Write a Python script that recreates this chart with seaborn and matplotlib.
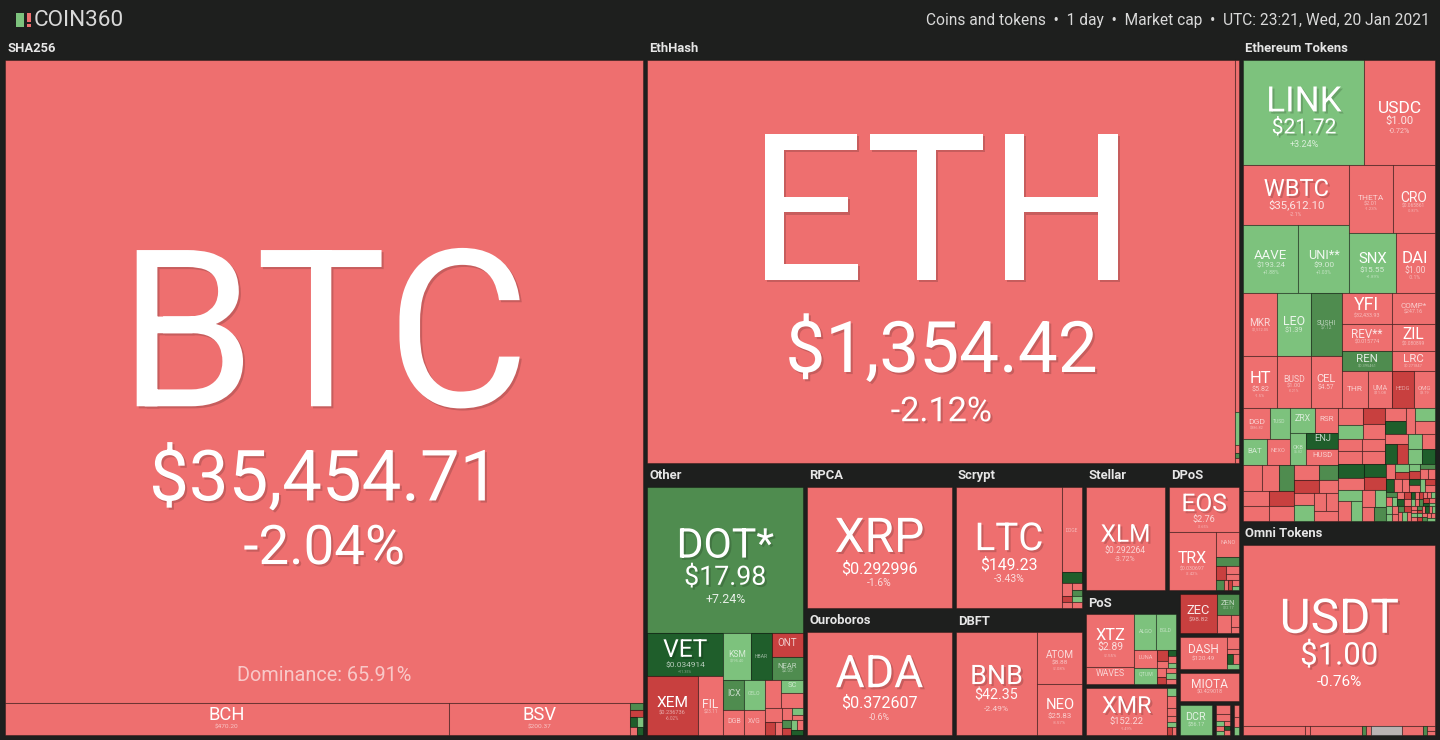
import matplotlib
matplotlib.use('Agg')
import matplotlib.pyplot as plt
import matplotlib.patheffects as pe
from matplotlib.patches import Rectangle
from matplotlib.textpath import TextPath
from matplotlib.font_manager import FontProperties
import seaborn as sns

# ---------------- data (tile size = relative tile area, change = 24h %) ----------------
# SHA256
sha_names = ['BTC', 'BCH', 'BSV']
sha_size = [4060, 142, 58]
sha_change = [-2.04, -2.69, -1.78]
sha_price = ['$35,454.71', '$470.20', '$200.37']
sha_tail_size = [0.9, 1.0, 0.6, 0.6, 0.6, 0.5]
sha_tail_change = [6.3, -5.8, 12.1, 2.4, -2.2, 11.5]
btc_dominance = 65.91

# EthHash
eth_names = ['ETH', 'ETC']
eth_size = [2344, 14]
eth_change = [-2.12, -3.05]
eth_price = ['$1,354.42', '$7.41']
eth_tail_size = [1.3, 0.3, 0.2, 0.2]
eth_tail_change = [2.2, -4.0, 7.0, -2.0]

# Ethereum Tokens
erc_names = ['LINK', 'USDC', 'WBTC', 'AAVE', 'UNI**', 'THETA', 'CRO', 'SNX', 'DAI',
             'MKR', 'LEO', 'SUSHI', 'HT', 'BUSD', 'CEL',
             'YFI', 'REV**', 'COMP*', 'ZIL', 'REN', 'LRC', 'THR', 'UMA', 'HEDG', 'OMG',
             'DGD', 'TUSD', 'BAT', 'NEXO', 'ZRX', 'RSR', 'OKB', 'ENJ', 'HUSD']
erc_size = [126, 73.5, 63, 36.2, 34.2, 29.2, 28.6, 27.1, 23,
            20.8, 21.4, 19.5, 17.2, 17.7, 16.1,
            15.5, 13.5, 13.3, 11.6, 10, 8.6, 9.6, 8.9, 8.1, 7.8,
            7.8, 6.0, 6.0, 6.0, 6.2, 5.5, 5.4, 5.1, 5.1]
erc_change = [3.24, -0.72, -2.1, 1.88, 1.03, -1.23, -0.87, 1.89, -0.1,
              -1.96, 1.12, 6.45, -1.5, -0.21, -2.04,
              -3.1, -2.0, -1.9, -3.5, 7.5, -1.0, -2.5, -3.0, -6.5, -2.4,
              -2.7, 0.3, 1.5, -1.2, 2.0, -2.5, 1.5, 14.2, -0.3]
erc_price = ['$21.72', '$1.00', '$35,612.10', '$193.24', '$9.00', '$2.01', '$0.065861', '$15.55', '$1.00',
             '$1,512.05', '$1.39', '$7.12', '$5.82', '$1.00', '$4.57',
             '$32,433.93', '$0.015774', '$247.16', '$0.080899', '$0.395461', '$0.271847', '$1,185.57',
             '$11.08', '$1.32', '$3.79',
             '$386.82', '$1.00', '$0.248271', '$0.886521', '$0.571204', '$0.034587', '$6.82', '$0.235862', '$1.00']
erc_c1_size = [4.7, 4.4, 3.9, 3.75, 3.75, 3.75, 3.75]
erc_c1_change = [-3.2, -2.1, 6.8, -2.0, -1.4, -6.0, -2.2]
erc_c2_size = [3.6, 3.2, 2.9, 2.5, 2.3, 3.1, 2.25, 2.25, 2.25]
erc_c2_change = [-2.3, -5.6, 6.2, -1.8, -1.1, 2.9, -2.4, -1.2, -3.3]
erc_rt_size = [4.0, 3.5, 3.3, 3.2, 3.0, 2.9, 2.8, 2.7, 2.6, 2.6,
               2.5, 2.5, 2.4, 2.4, 2.3, 2.2, 2.1, 2.0, 2.0, 1.8]
erc_rt_change = [-2.1, 2.6, -5.4, -1.7, -2.9, -1.2, -2.4, -3.1, -0.8, 12.3,
                 -1.9, 3.4, -2.6, -1.5, 11.8, -6.1, 2.2, -2.0, 1.9, 13.0]
erc_cc_size = [3.6, 3.2, 3.0, 2.8, 2.6, 2.4, 2.2, 2.0, 1.8, 1.6, 1.6]
erc_cc_change = [12.5, -2.2, 11.2, -6.3, 2.8, -1.6, 3.1, -2.5, 2.0, -3.4, 8.1]
erc_dense_size = [1.4, 1.2, 1.1, 1.0, 0.95, 0.9, 0.85, 0.8, 0.78, 0.75,
                  0.72, 0.7, 0.68, 0.65, 0.62, 0.6, 0.58, 0.56, 0.54, 0.52,
                  0.5, 0.48, 0.46, 0.45, 0.44, 0.42, 0.4, 0.39, 0.38, 0.36,
                  0.35, 0.34, 0.33, 0.32, 0.31, 0.3, 0.29, 0.28, 0.27, 0.26,
                  0.25, 0.24, 0.23, 0.22, 0.21, 0.2, 0.2, 0.2, 0.2, 0.2,
                  0.2, 0.2, 0.2, 0.2, 0.2, 0.2, 0.2, 0.2, 0.2, 0.2, 0.2, 0.2]
erc_dense_change = [-2.4, 3.1, -6.2, 12.4, -1.3, -2.8, 2.2, -7.1, 6.4, -0.9,
                    -3.6, 14.0, -2.2, 1.7, -5.5, -1.8, 8.3, -2.9, 3.3, -1.1,
                    -6.8, 11.3, -2.5, 0.8, -3.9, 2.6, -1.4, 7.2, -8.0, -2.0,
                    1.2, -3.0, 13.5, -1.6, -5.1, 2.9, -2.7, 6.1, -1.0, -4.4,
                    2.0, -6.5, 10.8, -2.3, 3.8, -1.9, -3.3, 9.1, -7.4, 1.5,
                    -2.1, 4.2, -5.8, -1.2, 12.0, -3.5, 2.4, -2.6, 6.9, -1.5, -4.8, 3.6]

# Omni Tokens
omni_names = ['USDT']
omni_size = [344]
omni_change = [-0.76]
omni_price = ['$1.00']
omni_tail_size = [5.5, 0.4, 4.6, 0.4, 0.4, 2.8, 1.8, 0.4, 0.4, 0.3]
omni_tail_change = [-2.1, -1.0, -2.4, 6.0, -4.0, None, -2.3, 5.0, -3.0, -1.5]

# Other
oth_names = ['DOT*', 'VET', 'XEM', 'FIL', 'KSM', 'HBAR', 'ONT', 'NEAR', 'ICX', 'CELO', 'DGB', 'XVG', '', 'SC', '']
oth_size = [226, 32.3, 29.5, 14.8, 12.7, 9.9, 7.4, 7.1, 6.3, 6.0, 5.3, 5.0, 4.5, 2.9, 3.3]
oth_change = [7.24, 11.35, -6.02, -2.61, 3.72, 10.8, -5.6, 6.2, 5.8, 3.3, -2.0, -1.9, -2.3, 2.1, -1.6]
oth_price = ['$17.98', '$0.034914', '$0.236736', '$23.11', '$195.40', '$0.044927', '$0.692310', '$2.05',
             '$0.961877', '$2.78', '$0.026814', '$0.013021', '', '$0.005689', '']
oth_tail_size = [2.5, 1.3, 1.0, 1.2, 0.8, 0.6, 0.6, 0.6, 0.6, 0.6, 0.6]
oth_tail_change = [-2.0, -6.4, -1.2, -2.8, 4.0, -1.5, 8.5, -6.0, 2.5, -2.2, 12.0]

# single-coin and small groups
rpca_names, rpca_size, rpca_change, rpca_price = ['XRP'], [173], [-1.6], ['$0.292996']
ouro_names, ouro_size, ouro_change, ouro_price = ['ADA'], [148], [-0.6], ['$0.372607']
xlm_names, xlm_size, xlm_change, xlm_price = ['XLM'], [80.3], [-3.72], ['$0.292264']
iota_names, iota_size, iota_change, iota_price = ['MIOTA'], [16.5], [-2.64], ['$0.429018']
dcr_names, dcr_size, dcr_change, dcr_price = ['DCR'], [9.6], [2.97], ['$56.17']

scr_names = ['LTC', 'DOGE', '']
scr_size = [128.3, 17, 2.2]
scr_change = [-3.43, -1.42, 12.2]
scr_price = ['$149.23', '$0.008923', '']
scr_tail_size = [1.2, 0.7, 0.6, 0.6, 0.6, 0.7, 0.6]
scr_tail_change = [-2.2, -3.0, 6.5, -6.1, -1.5, 2.8, -2.0]

dbft_names = ['BNB', 'ATOM', 'NEO']
dbft_size = [83, 22.9, 22.9]
dbft_change = [-2.49, -2.08, -3.57]
dbft_price = ['$42.35', '$8.88', '$25.83']

dpos_names = ['EOS', 'TRX', 'NANO', '']
dpos_size = [31.7, 27.3, 5.75, 2.25]
dpos_change = [-2.65, -2.42, -1.93, 6.6]
dpos_price = ['$2.76', '$0.030697', '$4.41', '']
dpos_a_size, dpos_a_change = [1.4, 1.0, 0.9], [-6.2, -2.5, -2.0]
dpos_b_size, dpos_b_change = [0.8, 0.4, 0.4, 0.4, 0.3], [7.1, -2.1, -5.9, -1.6, 3.3]

pos_names = ['XTZ', 'WAVES', 'ALGO', 'EGLD', 'LUNA', 'QTUM']
pos_size = [25, 8, 7.9, 6.8, 4.1, 3.7]
pos_change = [-2.55, -2.9, 2.2, 3.7, -2.8, 1.9]
pos_price = ['$2.89', '$6.02', '$0.492100', '$48.34', '$0.765500', '$3.41']
pos_m1_size, pos_m1_change = [1.1, 0.7, 0.5, 0.5, 0.4], [-6.0, -2.1, 12.5, -1.7, 3.0]
pos_m2_size, pos_m2_change = [0.8, 0.6, 0.5, 0.5, 0.5], [-2.4, -5.7, -1.3, 2.2, -2.0]

xmr_names, xmr_size, xmr_change, xmr_price = ['XMR'], [37.6], [-1.49], ['$152.22']
xmr_tail_size = [0.7, 1.0, 0.7, 0.5, 0.4, 0.4, 0.3]
xmr_tail_change = [2.5, -2.2, -1.4, -3.1, 2.0, -6.0, -1.8]

zec_names, zec_size, zec_change, zec_price = ['ZEC', 'ZEN'], [14.4, 4.6], [-5.75, 6.8], ['$98.82', '$12.17']
zec_tail_size, zec_tail_change = [2.5, 1.1, 0.5], [-2.3, -1.9, -2.6]

dash_names, dash_size, dash_change, dash_price = ['DASH'], [15.2], [-2.58], ['$120.49']
dash_tail_size, dash_tail_change = [1.4, 0.6, 0.6, 0.6, 0.6], [-2.1, -2.8, 11.0, -1.5, 3.2]

b2b_tail_size = [1.2, 1.0, 0.4, 0.4, 0.3, 0.3, 0.3, 0.3]
b2b_tail_change = [-2.2, -1.6, 4.0, -3.0, 2.0, -2.5, 11.0, -1.0]
cuckoo_tail_size, cuckoo_tail_change = [0.6, 0.5, 0.4], [-2.0, -3.0, 2.0]

header_right = 'Coins and tokens  \u2022  1 day  \u2022  Market cap  \u2022  UTC: 23:21, Wed, 20 Jan 2021'

# ---------------- groups and nesting ----------------
def grp(names, size, change, price, tree, **tails):
    return dict(names=names, size=size, change=change, price=price, tree=tree, tails=tails)

GROUPS = {
    'SHA256': grp(sha_names, sha_size, sha_change, sha_price, [0, [1, 2, 'tail']],
                  tail=(sha_tail_size, sha_tail_change)),
    'EthHash': grp(eth_names, eth_size, eth_change, eth_price, [0, [1, 'tail']],
                   tail=(eth_tail_size, eth_tail_change)),
    'Ethereum Tokens': grp(erc_names, erc_size, erc_change, erc_price, [
        [0, 1],
        [[2, [3, 4]], [[5, 6], [7, 8]]],
        [[[9, 10, 11], [12, 13, 14]], [[15, 17], [16, 18], [19, 20], [21, 22, 23, 24]]],
        [[[[[25, 26], [27, 28]], [[29, 30], [31, [32, 33]]]], ['c1', 'c2']], ['rt', ['cc', 'dense']]],
    ], c1=(erc_c1_size, erc_c1_change), c2=(erc_c2_size, erc_c2_change),
        rt=(erc_rt_size, erc_rt_change), cc=(erc_cc_size, erc_cc_change),
        dense=(erc_dense_size, erc_dense_change)),
    'Omni Tokens': grp(omni_names, omni_size, omni_change, omni_price, ['v', 0, 'tail'],
                       tail=(omni_tail_size, omni_tail_change)),
    'Other': grp(oth_names, oth_size, oth_change, oth_price,
                 [0, [[1, [2, 3]], [[4, 5, [6, 7]], [[[8, 9], [10, 11]], [[12, [13, 14]], 'tail']]]]],
                 tail=(oth_tail_size, oth_tail_change)),
    'RPCA': grp(rpca_names, rpca_size, rpca_change, rpca_price, [0]),
    'Ouroboros': grp(ouro_names, ouro_size, ouro_change, ouro_price, [0]),
    'Scrypt': grp(scr_names, scr_size, scr_change, scr_price, ['h', 0, [1, 2, 'tail']],
                  tail=(scr_tail_size, scr_tail_change)),
    'DBFT': grp(dbft_names, dbft_size, dbft_change, dbft_price, ['h', 0, [1, 2]]),
    'Stellar': grp(xlm_names, xlm_size, xlm_change, xlm_price, [0]),
    'DPoS': grp(dpos_names, dpos_size, dpos_change, dpos_price, [0, [1, [2, 3, 'a', 'b']]],
                a=(dpos_a_size, dpos_a_change), b=(dpos_b_size, dpos_b_change)),
    'PoS': grp(pos_names, pos_size, pos_change, pos_price, [[0, 1], [[2, 3], [[4, 5], ['m1', 'm2']]]],
               m1=(pos_m1_size, pos_m1_change), m2=(pos_m2_size, pos_m2_change)),
    'CryptoNight': grp(xmr_names, xmr_size, xmr_change, xmr_price, [0, 'tail'],
                       tail=(xmr_tail_size, xmr_tail_change)),
    'Equihash': grp(zec_names, zec_size, zec_change, zec_price, [0, [1, 'tail']],
                    tail=(zec_tail_size, zec_tail_change)),
    'X11': grp(dash_names, dash_size, dash_change, dash_price, [0, 'tail'],
               tail=(dash_tail_size, dash_tail_change)),
    'Tangle': grp(iota_names, iota_size, iota_change, iota_price, [0]),
    'Blake256': grp(dcr_names, dcr_size, dcr_change, dcr_price, [0]),
    'Blake2b': grp([], [], [], [], ['tail'], tail=(b2b_tail_size, b2b_tail_change)),
    'Cuckoo': grp([], [], [], [], ['tail'], tail=(cuckoo_tail_size, cuckoo_tail_change)),
}

layout_top = ['SHA256',
              [['EthHash',
                ['Other', ['RPCA', 'Ouroboros'], ['Scrypt', 'DBFT'],
                 [['Stellar', 'DPoS'],
                  [['PoS', 'CryptoNight'], ['Equihash', 'X11', 'Tangle', ['Blake256', 'Blake2b', 'Cuckoo']]]]]],
               ['Ethereum Tokens', 'Omni Tokens']]]

# ---------------- treemap layout ----------------
PAD, HEAD = 2, 20
FRAME = (3, 38, 1434, 699)


def make(spec, g):
    if isinstance(spec, int):
        return dict(kind='leaf', name=g['names'][spec], size=g['size'][spec],
                    change=g['change'][spec], price=g['price'][spec])
    if isinstance(spec, str):
        sizes, changes = g['tails'][spec]
        return dict(kind='bin', kids=[dict(kind='leaf', name='', size=s, change=c, price='')
                                      for s, c in zip(sizes, changes)])
    ori = None
    if spec and spec[0] in ('h', 'v'):
        ori, spec = spec[0], spec[1:]
    return dict(kind='box', ori=ori, kids=[make(s, g) for s in spec])


def make_top(spec):
    if isinstance(spec, str):
        g = GROUPS[spec]
        return dict(kind='group', label=spec, body=make(g['tree'], g), extra=0.0)
    return dict(kind='box', ori=None, kids=[make_top(s) for s in spec])


def weight(n):
    if n['kind'] == 'leaf':
        return n['size']
    if n['kind'] == 'group':
        return weight(n['body']) + n['extra']
    return sum(weight(k) for k in n['kids'])


def binary(ws, x, y, w, h):
    """ d3-style binary treemap split """
    sums = [0.0]
    for v in ws:
        sums.append(sums[-1] + v)
    out = [None] * len(ws)

    def part(i, j, value, x0, y0, x1, y1):
        if i >= j - 1:
            out[i] = (x0, y0, x1 - x0, y1 - y0)
            return
        target = value / 2 + sums[i]
        k, hi = i + 1, j - 1
        while k < hi:
            mid = (k + hi) // 2
            if sums[mid] < target:
                k = mid + 1
            else:
                hi = mid
        if target - sums[k - 1] < sums[k] - target and i + 1 < k:
            k -= 1
        left = sums[k] - sums[i]
        right = value - left
        if x1 - x0 > y1 - y0:
            xk = (x0 * right + x1 * left) / value
            part(i, k, left, x0, y0, xk, y1)
            part(k, j, right, xk, y0, x1, y1)
        else:
            yk = (y0 * right + y1 * left) / value
            part(i, k, left, x0, y0, x1, yk)
            part(k, j, right, x0, yk, x1, y1)

    part(0, len(ws), sums[-1], x, y, x + w, y + h)
    return out


def place(n, x, y, w, h, groups, leaves):
    n['rect'] = (x, y, w, h)
    kind = n['kind']
    if kind == 'leaf':
        leaves.append(n)
        return
    if kind == 'group':
        ix, iy, iw, ih = x + PAD, y + PAD, w - 2 * PAD, h - 2 * PAD
        n['head'] = ih >= 70
        hh = HEAD if n['head'] else 0
        n['inner'] = (ix, iy, iw, ih)
        n['spare'] = w * h - iw * (ih - hh)
        groups.append(n)
        place(n['body'], ix, iy + hh, iw, ih - hh, groups, leaves)
        return
    ws = [weight(k) for k in n['kids']]
    if kind == 'bin':
        for k, r in zip(n['kids'], binary(ws, x, y, w, h)):
            place(k, *r, groups, leaves)
        return
    ori = n['ori'] or ('v' if h >= w else 'h')
    tot = sum(ws)
    pos = 0.0
    for k, wt in zip(n['kids'], ws):
        f = wt / tot
        if ori == 'h':
            place(k, x + pos * w, y, f * w, h, groups, leaves)
        else:
            place(k, x, y + pos * h, w, f * h, groups, leaves)
        pos += f


root = make_top(layout_top)
for _ in range(12):
    groups, leaves = [], []
    scale = FRAME[2] * FRAME[3] / weight(root)
    place(root, *FRAME, groups, leaves)
    for g in groups:
        g['extra'] = g['spare'] / scale

# ---------------- drawing ----------------
sns.set_theme(style='white')
plt.rcParams['font.family'] = ['Roboto', 'DejaVu Sans']

BG = '#1e1f1e'
bucket_colours = sns.color_palette(['#c8403f', '#ee6f6f', '#7dc27d', '#4f8c4f', '#1f5e2b'])


def tile_colour(c):
    if c is None:
        return '#b9b4b4'
    if c <= -5:
        return bucket_colours[0]
    if c < 0:
        return bucket_colours[1]
    if c < 5:
        return bucket_colours[2]
    if c < 10:
        return bucket_colours[3]
    return bucket_colours[4]


def fmt_change(c):
    return f'{c:+.2f}'.rstrip('0').rstrip('.') + '%'


fp = FontProperties(family='Roboto')
_wc = {}


def ink_w(s):
    if s not in _wc:
        _wc[s] = TextPath((0, 0), s, size=1, prop=fp).get_extents().width if s else 1e9
    return _wc[s]


PT = 72 / 100
CAP = 0.711

fig = plt.figure(figsize=(14.4, 7.4), dpi=100)
fig.patch.set_facecolor(BG)
ax = fig.add_axes([0, 0, 1, 1])
ax.set_facecolor(BG)
ax.set_xlim(0, 1440)
ax.set_ylim(740, 0)
ax.axis('off')


def put(x, y, s, px, shadow=False, alpha=None):
    a = min(1.0, 0.3 + px / 22) if alpha is None else alpha
    t = ax.text(x, y, s, fontsize=px * PT, color='white', alpha=a, ha='center', va='baseline')
    if shadow:
        t.set_path_effects([pe.SimplePatchShadow(offset=(1.5, -1.5), shadow_rgbFace='black', alpha=0.16),
                            pe.Normal()])


for lf in leaves:
    x, y, w, h = lf['rect']
    ax.add_patch(Rectangle((x, y), w, h, facecolor=tile_colour(lf['change']),
                           edgecolor=(0, 0, 0, 0.33), linewidth=0.75))

for lf in leaves:
    name = lf['name']
    if not name:
        continue
    x, y, w, h = lf['rect']
    S = min(0.6 * w / ink_w(name), 0.57 * h)
    if S < 4.5:
        continue
    chg = fmt_change(lf['change'])
    P = min(0.52 * w / ink_w(lf['price']), 0.65 * S, 0.2 * h)
    C = min(0.085 * h, 0.8 * P, 0.3 * w / ink_w(chg))
    g1, g2 = 0.2 * S, 0.35 * P
    block = CAP * S + g1 + CAP * P + g2 + CAP * C
    cx = x + w / 2
    yb = y + (h - block) / 2 + 0.04 * h + CAP * S
    put(cx, yb, name, S, shadow=S > 20)
    yb += g1 + CAP * P
    if P >= 3.5:
        put(cx, yb, lf['price'], P, shadow=P > 20)
    yb += g2 + CAP * C
    if C >= 3.5:
        put(cx, yb, chg, C, shadow=C > 20)
    if name == 'BTC':
        put(cx, y + h - 0.033 * h, f'Dominance: {btc_dominance:.2f}%', 0.031 * h, alpha=0.62)

for g in groups:
    if g['head']:
        ix, iy, iw, ih = g['inner']
        ax.text(ix + 2, iy + 9, g['label'], fontsize=13 * PT, fontweight='bold',
                color='#e6e6e6', ha='left', va='center')

# header bar
ax.add_patch(Rectangle((16, 13), 8, 14, color=bucket_colours[2], linewidth=0))
ax.add_patch(Rectangle((27, 13), 4, 9, color=bucket_colours[1], linewidth=0))
ax.add_patch(Rectangle((27, 24), 4, 3, color=bucket_colours[1], linewidth=0))
ax.text(34, 20.5, 'COIN360', fontsize=22.5 * PT, color='#d9d9d9', ha='left', va='center')
ax.text(1430, 20, header_right, fontsize=15.5 * PT, color='#d9d9d9', ha='right', va='center')

fig.savefig('out.png', dpi=100, facecolor=BG)
